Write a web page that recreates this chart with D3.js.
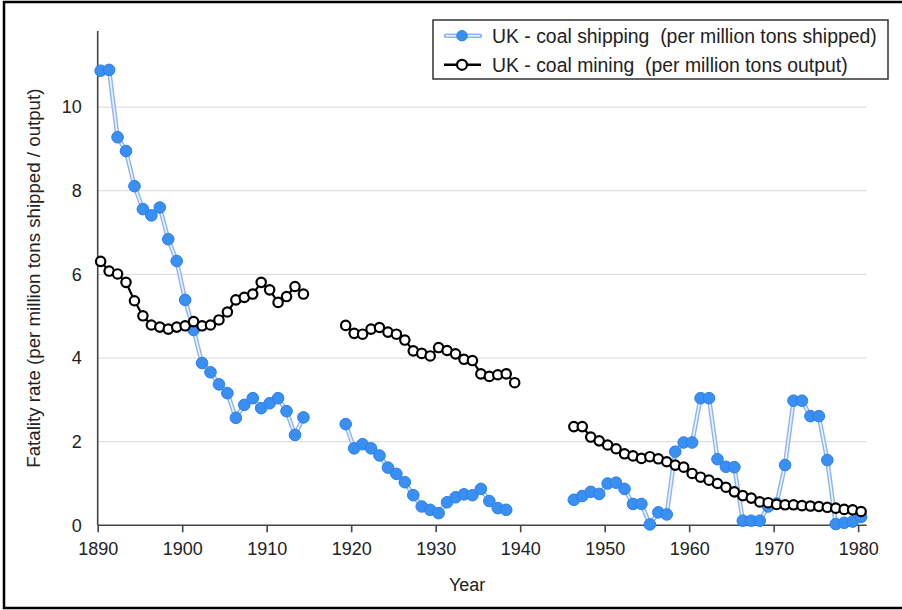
<!DOCTYPE html>
<html>
<head>
<meta charset="utf-8">
<script src="https://cdn.jsdelivr.net/npm/d3@7"></script>
<style>
	body { margin: 0; background: #fff; }
	text { font-family: 'Liberation Sans', Arial, sans-serif; fill: #222; }
</style>
</head>
<body>
<div class="chart"></div>
<script>
// years on the x axis, one value per year, null where there is no data
const years = d3.range(1890, 1981);

const shippingRates = [
	10.87, 10.89, 9.28, 8.95, 8.11, 7.56, 7.41, 7.60, 6.84, 6.32,
	5.39, 4.67, 3.88, 3.66, 3.37, 3.16, 2.57, 2.88, 3.04, 2.80,
	2.92, 3.04, 2.73, 2.16, 2.58, null, null, null, null, 2.42,
	1.84, 1.94, 1.84, 1.67, 1.38, 1.23, 1.03, 0.72, 0.45, 0.37,
	0.29, 0.55, 0.67, 0.74, 0.72, 0.87, 0.58, 0.41, 0.37, null,
	null, null, null, null, null, null, 0.61, 0.70, 0.80, 0.75,
	1.00, 1.02, 0.87, 0.51, 0.51, 0.02, 0.31, 0.26, 1.76, 1.98,
	1.98, 3.04, 3.04, 1.58, 1.40, 1.39, 0.11, 0.11, 0.11, 0.45,
	0.52, 1.44, 2.98, 2.98, 2.61, 2.61, 1.56, 0.03, 0.06, 0.09,
	0.20
];

const miningRates = [
	6.31, 6.08, 6.01, 5.81, 5.37, 5.01, 4.79, 4.74, 4.69, 4.74,
	4.77, 4.87, 4.77, 4.79, 4.91, 5.10, 5.39, 5.45, 5.53, 5.81,
	5.63, 5.33, 5.47, 5.71, 5.53, null, null, null, null, 4.78,
	4.59, 4.57, 4.69, 4.73, 4.62, 4.57, 4.43, 4.17, 4.11, 4.05,
	4.25, 4.18, 4.10, 3.97, 3.94, 3.62, 3.56, 3.60, 3.62, 3.41,
	null, null, null, null, null, null, 2.36, 2.36, 2.11, 2.02,
	1.92, 1.83, 1.71, 1.66, 1.60, 1.64, 1.59, 1.52, 1.44, 1.39,
	1.24, 1.15, 1.08, 1.00, 0.91, 0.80, 0.71, 0.65, 0.56, 0.54,
	0.50, 0.49, 0.49, 0.47, 0.46, 0.45, 0.43, 0.41, 0.38, 0.37,
	0.33
];

const xTicks = [1890, 1900, 1910, 1920, 1930, 1940, 1950, 1960, 1970, 1980];
const yTicks = [0, 2, 4, 6, 8, 10];

const seriesNames = [
	'UK - coal shipping  (per million tons shipped)',
	'UK - coal mining  (per million tons output)'
];
const xTitle = 'Year';
const yTitle = 'Fatality rate (per million tons shipped / output)';

const width = 902, height = 610;
const plot = {left: 97.7, right: 866.6, top: 31, bottom: 525.3};

const x = d3.scaleLinear().domain([1890, 1981]).range([plot.left, plot.right]);
const y = d3.scaleLinear().domain([0, 11.82]).range([plot.bottom, plot.top]);

// points sit a little right of the tick in the original
const shift = 0.35;

const shipping = years.map(function(yr, i){ return {year: yr, value: shippingRates[i]} });
const mining = years.map(function(yr, i){ return {year: yr, value: miningRates[i]} });

const svg = d3.select('.chart').append('svg')
	.attr('width', width)
	.attr('height', height);

// outer frame
svg.append('rect')
	.attr('x', 4).attr('y', 2)
	.attr('width', width + 4).attr('height', 606)
	.style('fill', '#fff')
	.style('stroke', '#000')
	.style('stroke-width', 2.5);

// gridlines
svg.append('g')
	.attr('class', 'grid')
	.selectAll('line')
	.data(yTicks.filter(function(t){ return t > 0 }))
	.enter().append('line')
	.attr('x1', plot.left).attr('x2', plot.right)
	.attr('y1', function(d){ return y(d) }).attr('y2', function(d){ return y(d) })
	.style('stroke', '#d9d9d9')
	.style('stroke-width', 1);

// axes
const xAxis = svg.append('g')
	.attr('transform', 'translate(0,' + plot.bottom + ')')
	.call(d3.axisBottom(x).tickValues(xTicks).tickFormat(d3.format('d')).tickSize(7).tickPadding(10));
xAxis.select('.domain').attr('d', 'M' + plot.left + ',0H' + plot.right);

const yAxis = svg.append('g')
	.attr('transform', 'translate(' + plot.left + ',0)')
	.call(d3.axisLeft(y).tickValues(yTicks).tickSize(0).tickPadding(16));
yAxis.select('.domain').attr('d', 'M0,' + plot.top + 'V' + plot.bottom);

svg.selectAll('.domain, .tick line')
	.style('stroke', '#444')
	.style('stroke-width', 1.6);
svg.selectAll('.tick text')
	.style('font-size', '18px')
	.style('fill', '#222');

svg.append('text')
	.attr('x', (plot.left + plot.right) / 2 - 15)
	.attr('y', 591)
	.attr('text-anchor', 'middle')
	.style('font-size', '18px')
	.text(xTitle);

svg.append('text')
	.attr('transform', 'translate(39.5,' + ((plot.top + plot.bottom) / 2) + ') rotate(-90)')
	.attr('text-anchor', 'middle')
	.style('font-size', '18.7px')
	.text(yTitle);

const line = d3.line()
	.defined(function(d){ return d.value !== null })
	.x(function(d){ return x(d.year + shift) })
	.y(function(d){ return y(d.value) });

// shipping: pale double line with solid blue dots
svg.append('path')
	.datum(shipping)
	.attr('d', line)
	.style('fill', 'none')
	.style('stroke', '#8db6f4')
	.style('stroke-width', 4.5);
svg.append('path')
	.datum(shipping)
	.attr('d', line)
	.style('fill', 'none')
	.style('stroke', '#eef4fe')
	.style('stroke-width', 1.6);
svg.append('g')
	.selectAll('circle')
	.data(shipping.filter(function(d){ return d.value !== null }))
	.enter().append('circle')
	.attr('cx', function(d){ return x(d.year + shift) })
	.attr('cy', function(d){ return y(d.value) })
	.attr('r', 5.8)
	.style('fill', '#3990f2')
	.style('stroke', '#2b7fe6')
	.style('stroke-width', 1);

// mining: black line, open dots
svg.append('path')
	.datum(mining)
	.attr('d', line)
	.style('fill', 'none')
	.style('stroke', '#000')
	.style('stroke-width', 2.2);
svg.append('g')
	.selectAll('circle')
	.data(mining.filter(function(d){ return d.value !== null }))
	.enter().append('circle')
	.attr('cx', function(d){ return x(d.year + shift) })
	.attr('cy', function(d){ return y(d.value) })
	.attr('r', 4.7)
	.style('fill', '#fff')
	.style('stroke', '#000')
	.style('stroke-width', 2.2);

// legend
const legend = svg.append('g').attr('class', 'legend');
legend.append('rect')
	.attr('x', 433).attr('y', 20)
	.attr('width', 455).attr('height', 59)
	.style('fill', '#fff')
	.style('stroke', '#333')
	.style('stroke-width', 1.5);

const rowY = [35.7, 64.8];
legend.append('line')
	.attr('x1', 446).attr('x2', 480).attr('y1', rowY[0]).attr('y2', rowY[0])
	.style('stroke', '#8db6f4').style('stroke-width', 4.5).style('stroke-linecap', 'round');
legend.append('line')
	.attr('x1', 446).attr('x2', 480).attr('y1', rowY[0]).attr('y2', rowY[0])
	.style('stroke', '#eef4fe').style('stroke-width', 1.6);
legend.append('circle')
	.attr('cx', 462).attr('cy', rowY[0]).attr('r', 5.2)
	.style('fill', '#3990f2').style('stroke', '#2b7fe6');

legend.append('line')
	.attr('x1', 444).attr('x2', 481).attr('y1', rowY[1]).attr('y2', rowY[1])
	.style('stroke', '#000').style('stroke-width', 2.6);
legend.append('circle')
	.attr('cx', 462).attr('cy', rowY[1]).attr('r', 5)
	.style('fill', '#fff').style('stroke', '#000').style('stroke-width', 2.2);

legend.selectAll('text.entry')
	.data(seriesNames)
	.enter().append('text')
	.attr('class', 'entry')
	.attr('x', 492)
	.attr('y', function(d, i){ return rowY[i] + 6.8 })
	.style('font-size', '19.4px')
	.style('white-space', 'pre')
	.text(function(d){ return d });
</script>
</body>
</html>
